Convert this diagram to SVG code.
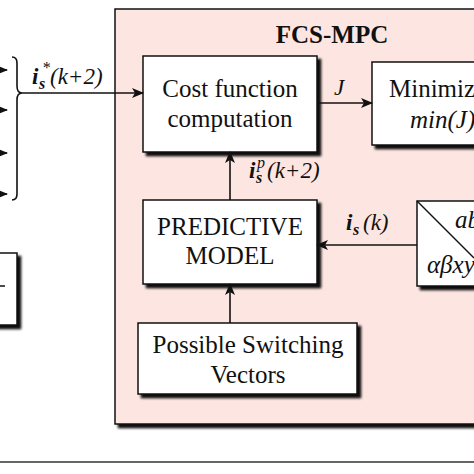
<svg xmlns="http://www.w3.org/2000/svg" width="474" height="474" viewBox="0 0 474 474">
<defs>
<filter id="sh" x="-10%" y="-10%" width="130%" height="130%">
<feDropShadow dx="3.5" dy="3.5" stdDeviation="0.8" flood-color="#000" flood-opacity="0.95"/>
</filter>
<marker id="ah" markerWidth="12" markerHeight="10" refX="11" refY="5" orient="auto" markerUnits="userSpaceOnUse">
<path d="M0,0 L12,5 L0,10 L3,5 Z" fill="#111"/>
</marker>
<style>
.box{fill:#fff;stroke:#111;stroke-width:1.5;filter:url(#sh)}
.t{font-family:"Liberation Serif","Times New Roman",serif;font-size:25px;fill:#111}
.it{font-style:italic}
.bi{font-style:italic;font-weight:bold}
.lbl{font-family:"Liberation Serif","Times New Roman",serif;font-size:23px;fill:#111;font-style:italic}
.sub{font-size:16px}
.ln{stroke:#111;stroke-width:1.6;fill:none}
</style>
</defs>
<rect width="474" height="474" fill="#fff"/>

<g id="fcs-mpc">
<rect x="115" y="9" width="380" height="415" fill="#fde6e1" stroke="#111" stroke-width="1.5" filter="url(#sh)"/>
<text x="332" y="43" class="t" font-weight="bold" text-anchor="middle">FCS-MPC</text>
</g>

<g id="left-box">
<rect x="-20" y="253" width="37" height="72" class="box"/>
<line x1="0" y1="286" x2="5" y2="286" stroke="#111" stroke-width="1.5"/>
</g>

<g id="cost">
<rect x="143" y="56" width="174" height="96" class="box"/>
<text x="230" y="97" class="t" text-anchor="middle">Cost function</text>
<text x="230" y="127" class="t" text-anchor="middle">computation</text>
</g>

<g id="minimize">
<rect x="372" y="62" width="140" height="83" class="box"/>
<text x="389" y="97" class="t">Minimize</text>
<text x="410" y="128" class="t it">min(J)</text>
</g>

<g id="predictive">
<rect x="143" y="200" width="174" height="84" class="box"/>
<text x="230" y="235" class="t" text-anchor="middle">PREDICTIVE</text>
<text x="230" y="264" class="t" text-anchor="middle">MODEL</text>
</g>

<g id="switching">
<rect x="138" y="323" width="219" height="71" class="box"/>
<text x="248" y="353" class="t" text-anchor="middle">Possible Switching</text>
<text x="248" y="383" class="t" text-anchor="middle">Vectors</text>
</g>

<g id="transform">
<rect x="417" y="201" width="90" height="85" class="box"/>
<line x1="417" y1="201" x2="474" y2="258" stroke="#111" stroke-width="1.5"/>
<text x="455" y="228" class="t it" font-size="22">abc</text>
<text x="427" y="273" class="t it" font-size="22">αβxy</text>
</g>

<g id="connectors">
<line x1="-5" y1="70" x2="7" y2="70" class="ln" marker-end="url(#ah)"/>
<line x1="-5" y1="110" x2="7" y2="110" class="ln" marker-end="url(#ah)"/>
<line x1="-5" y1="153" x2="7" y2="153" class="ln" marker-end="url(#ah)"/>
<line x1="-5" y1="194" x2="7" y2="194" class="ln" marker-end="url(#ah)"/>
<path d="M12,57 Q17,57 17,63 L17,86 Q17,93 22,93 Q17,93 17,100 L17,194 Q17,200 12,200" class="ln"/>
<line x1="22" y1="93" x2="143" y2="93" class="ln" marker-end="url(#ah)"/>
<line x1="317" y1="103" x2="372" y2="103" class="ln" marker-end="url(#ah)"/>
<line x1="230" y1="200" x2="230" y2="152" class="ln" marker-end="url(#ah)"/>
<line x1="230" y1="323" x2="230" y2="284" class="ln" marker-end="url(#ah)"/>
<line x1="417" y1="245" x2="317" y2="245" class="ln" marker-end="url(#ah)"/>
<line x1="0" y1="462" x2="474" y2="462" stroke="#333" stroke-width="1.5"/>
</g>

<g id="labels">
<text class="lbl" y="84"><tspan x="32" font-weight="bold">i</tspan><tspan x="39" dy="5" class="sub" font-weight="bold">s</tspan><tspan x="42" dy="-16" class="sub">*</tspan><tspan x="50" dy="11">(k+2)</tspan></text>
<text x="334" y="95" class="lbl">J</text>
<text class="lbl" y="178"><tspan x="249" font-weight="bold">i</tspan><tspan x="256" dy="5" class="sub" font-weight="bold">s</tspan><tspan x="257" dy="-15" class="sub">p</tspan><tspan x="267" dy="10">(k+2)</tspan></text>
<text class="lbl" y="230"><tspan x="346" font-weight="bold">i</tspan><tspan x="353" dy="5" class="sub" font-weight="bold">s</tspan><tspan x="363" dy="-5">(k)</tspan></text>
</g>
</svg>
